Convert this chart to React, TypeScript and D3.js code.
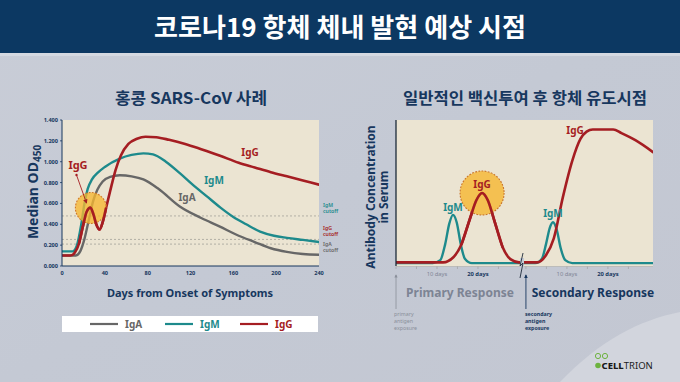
import React from 'react';
import * as d3 from 'd3';

const W = 680;
const H = 382;

const NAVY = '#17375e';
const RED = '#a51d22';
const TEAL = '#1d8a8c';
const GRAY = '#676767';
const PLOT_BG = '#ebe4d2';

const mainTitle = '코로나19 항체 체내 발현 예상 시점';
const leftTitle = '홍콩 SARS-CoV 사례';
const rightTitle = '일반적인 백신투여 후 항체 유도시점';

// Left chart (days, median OD450)
const leftYTicks = [0, 0.2, 0.4, 0.6, 0.8, 1.0, 1.2, 1.4];
const leftXTicks = [0, 40, 80, 120, 160, 200, 240];

const igaData: [number, number][] = [
  [0, 0.1], [13, 0.1], [17, 0.14], [21, 0.26], [25, 0.44], [29, 0.62], [33, 0.73], [38, 0.81],
  [45, 0.855], [54, 0.87], [65, 0.86], [76, 0.83], [90, 0.74], [110, 0.57], [130, 0.46],
  [147, 0.38], [165, 0.29], [180, 0.23], [195, 0.17], [210, 0.135], [225, 0.115], [240, 0.108],
];
const igmData: [number, number][] = [
  [0, 0.14], [10, 0.14], [14, 0.2], [18, 0.4], [21, 0.6], [24, 0.74], [28, 0.83], [34, 0.9],
  [40, 0.95], [54, 1.03], [65, 1.065], [76, 1.08], [85, 1.07], [97, 1.0], [110, 0.89],
  [122, 0.78], [135, 0.67], [148, 0.56], [160, 0.47], [172, 0.4], [185, 0.33], [198, 0.29],
  [210, 0.27], [225, 0.25], [240, 0.23],
];
const iggData: [number, number][] = [
  [0, 0.1], [8, 0.1], [12, 0.13], [16, 0.22], [20, 0.4], [23, 0.52], [26.5, 0.56], [29.5, 0.49],
  [32, 0.4], [35, 0.35], [38, 0.42], [41, 0.55], [45, 0.72], [50, 0.92], [55, 1.06], [62, 1.17],
  [70, 1.22], [78, 1.24], [88, 1.235], [100, 1.21], [115, 1.17], [130, 1.12], [147, 1.06],
  [165, 0.99], [180, 0.945], [195, 0.9], [210, 0.86], [225, 0.82], [240, 0.78],
];
const cutoffNames = ['IgM', 'IgG', 'IgA'];
const cutoffValues = [0.48, 0.255, 0.21];
const legendNames = ['IgA', 'IgM', 'IgG'];

// Right chart (time in days, relative concentration)
const secondaryStart = 31.7;
const rightDomainEnd = 62.7;
const rightTickLabels = ['10 days', '20 days'];
const rightTickDays = [10, 20];
const rightMinorTicks = [0, 5, 10, 15, 20, 25];
const vIgmData: [number, number][] = [
  [0, 0.02], [9, 0.02], [10.8, 0.04], [12, 0.15], [13, 0.29], [13.9, 0.35], [14.8, 0.3],
  [15.8, 0.15], [16.8, 0.05], [18.5, 0.02], [34, 0.02], [35.6, 0.05], [36.6, 0.15],
  [37.5, 0.26], [38.3, 0.3], [39.2, 0.25], [40.2, 0.12], [41.3, 0.04], [43, 0.02], [62.7, 0.02],
];
const vIggData: [number, number][] = [
  [0, 0.025], [11.5, 0.025], [14, 0.06], [16, 0.15], [18, 0.32], [19.6, 0.45], [21, 0.5],
  [22.4, 0.45], [24, 0.31], [26, 0.13], [28, 0.045], [30, 0.025], [34.4, 0.025], [36.5, 0.07],
  [38.5, 0.19], [40.7, 0.47], [43, 0.72], [45, 0.87], [46.5, 0.92], [48, 0.935], [53, 0.935],
  [55, 0.91], [58.5, 0.86], [62.7, 0.78],
];
const primaryExposureLines = ['primary', 'antigen', 'exposure'];
const secondaryExposureLines = ['secondary', 'antigen', 'exposure'];

const LATIN = "'Noto Sans', 'Open Sans', sans-serif";
const KR = "'Noto Sans CJK KR', 'Noto Sans', sans-serif";

export default function App() {
  // left scales
  const lx = d3.scaleLinear().domain([0, 240]).range([62, 319]);
  const ly = d3.scaleLinear().domain([0, 1.4]).range([266, 120]);
  const lline = d3
    .line<[number, number]>()
    .x((d) => lx(d[0]))
    .y((d) => ly(d[1]))
    .curve(d3.curveMonotoneX);

  // right scales
  const rx = d3.scaleLinear().domain([0, rightDomainEnd]).range([396, 653]);
  const ry = d3.scaleLinear().domain([0, 1]).range([266, 120]);
  const rline = d3
    .line<[number, number]>()
    .x((d) => rx(d[0]))
    .y((d) => ry(d[1]))
    .curve(d3.curveMonotoneX);

  const cutoffColors = [TEAL, RED, GRAY];
  const legendColors = [GRAY, TEAL, RED];
  const legendX = [90, 165, 240];

  const breakX = rx(30.5);
  const expoY = [315.5, 322.8, 330.1];

  return (
    <svg
      width={W}
      height={H}
      viewBox={`0 0 ${W} ${H}`}
      style={{ position: 'absolute', left: 0, top: 0, display: 'block' }}
    >
      <defs>
        <linearGradient id="bg" x1="0" y1="0" x2="1" y2="1">
          <stop offset="0" stopColor="#c9cdd7" />
          <stop offset="0.5" stopColor="#c4c9d4" />
          <stop offset="1" stopColor="#c3c7d2" />
        </linearGradient>
        <marker id="arrowRed" viewBox="0 0 10 10" refX="8" refY="5" markerWidth="5" markerHeight="5" orient="auto">
          <path d="M0,0 L10,5 L0,10 z" fill={RED} />
        </marker>
        <marker id="arrowGray" viewBox="0 0 10 10" refX="8" refY="5" markerWidth="4" markerHeight="4" orient="auto">
          <path d="M0,0 L10,5 L0,10 z" fill="#8a8f9a" />
        </marker>
        <marker id="arrowNavy" viewBox="0 0 10 10" refX="8" refY="5" markerWidth="4" markerHeight="4" orient="auto">
          <path d="M0,0 L10,5 L0,10 z" fill={NAVY} />
        </marker>
        <clipPath id="lclip">
          <rect x={62} y={120} width={257} height={146} />
        </clipPath>
        <clipPath id="rclip">
          <rect x={396} y={120} width={257} height={146} />
        </clipPath>
      </defs>

      {/* background */}
      <rect x={0} y={0} width={W} height={H} fill="url(#bg)" />
      <path d="M560,382 C600,340 640,320 680,312 L680,382 Z" fill="#d2d5dd" />
      <rect x={0} y={0} width={W} height={53} fill="#0c3862" />
      <rect x={0} y={53} width={W} height={3} fill="#d5d9e1" />
      <text
        x={340}
        y={37}
        textAnchor="middle"
        fill="#ffffff"
        fontFamily={KR}
        fontWeight={700}
        fontSize={26}
        textLength={372}
        lengthAdjust="spacingAndGlyphs"
      >
        {mainTitle}
      </text>

      {/* ===== LEFT CHART ===== */}
      <text
        x={191}
        y={104}
        textAnchor="middle"
        fill={NAVY}
        fontFamily={KR}
        fontWeight={700}
        fontSize={16}
        textLength={152}
        lengthAdjust="spacingAndGlyphs"
      >
        {leftTitle}
      </text>
      <rect x={62} y={120} width={257} height={146} fill={PLOT_BG} />
      {/* cutoff lines */}
      {cutoffValues.map((v, i) => (
        <line
          key={'co' + i}
          x1={62}
          x2={319}
          y1={ly(v)}
          y2={ly(v)}
          stroke="#9a9a92"
          strokeWidth={0.7}
          strokeDasharray="2,2"
        />
      ))}
      {/* curves */}
      <g clipPath="url(#lclip)" fill="none" strokeLinejoin="round" strokeLinecap="round">
        <path d={lline(igaData) || ''} stroke={GRAY} strokeWidth={2.4} />
        <path d={lline(igmData) || ''} stroke={TEAL} strokeWidth={2.4} />
        <path d={lline(iggData) || ''} stroke={RED} strokeWidth={2.6} />
      </g>
      {/* highlight circle */}
      <circle
        cx={lx(27)}
        cy={ly(0.556)}
        r={15.5}
        fill="#f6b731"
        fillOpacity={0.78}
        stroke="#d0782a"
        strokeWidth={1.1}
        strokeDasharray="1.8,1.4"
      />
      <path d={lline(iggData.filter((d) => d[0] >= 16 && d[0] <= 41)) || ''} fill="none" stroke={RED} strokeWidth={2.6} strokeLinecap="round" />
      {/* IgG annotation */}
      <text x={78} y={169} textAnchor="middle" fill={RED} fontFamily={LATIN} fontWeight={700} fontSize={11}>
        IgG
      </text>
      <circle cx={76.5} cy={175} r={1.2} fill={RED} />
      <line x1={76.5} y1={175} x2={86.5} y2={203} stroke={RED} strokeWidth={0.9} markerEnd="url(#arrowRed)" />
      {/* curve labels */}
      <text x={250} y={156} textAnchor="middle" fill={RED} fontFamily={LATIN} fontWeight={700} fontSize={10}>IgG</text>
      <text x={214} y={184} textAnchor="middle" fill={TEAL} fontFamily={LATIN} fontWeight={700} fontSize={10}>IgM</text>
      <text x={187} y={201} textAnchor="middle" fill={GRAY} fontFamily={LATIN} fontWeight={700} fontSize={10}>IgA</text>
      {/* cutoff labels */}
      {cutoffNames.map((n, i) => {
        const yy = [210, 233, 249][i];
        return (
          <g key={'cl' + i} fill={cutoffColors[i]} fontFamily={LATIN} fontSize={5.2} fontWeight={600}>
            <text x={323} y={yy - 3.2}>{n}</text>
            <text x={323} y={yy + 3.4}>cutoff</text>
          </g>
        );
      })}
      {/* axes */}
      <line x1={62} x2={62} y1={120} y2={266} stroke={NAVY} strokeWidth={1} />
      <line x1={62} x2={319} y1={266} y2={266} stroke={NAVY} strokeWidth={1} />
      {leftYTicks.map((t) => (
        <g key={'ly' + t}>
          <line x1={60} x2={62} y1={ly(t)} y2={ly(t)} stroke={NAVY} strokeWidth={0.8} />
          <text
            x={58}
            y={ly(t) + 2}
            textAnchor="end"
            fill={NAVY}
            fontFamily={LATIN}
            fontWeight={700}
            fontSize={5.6}
          >
            {d3.format('.3f')(t)}
          </text>
        </g>
      ))}
      {leftXTicks.map((t) => (
        <text
          key={'lx' + t}
          x={lx(t)}
          y={275}
          textAnchor="middle"
          fill={NAVY}
          fontFamily={LATIN}
          fontWeight={700}
          fontSize={5.6}
        >
          {t}
        </text>
      ))}
      <text
        transform="translate(38,192) rotate(-90)"
        textAnchor="middle"
        fill={NAVY}
        fontFamily={LATIN}
        fontWeight={700}
        fontSize={14}
      >
        Median OD<tspan fontSize={10} dy={3}>450</tspan>
      </text>
      <text x={190} y={297} textAnchor="middle" fill={NAVY} fontFamily={LATIN} fontWeight={700} fontSize={11}>
        Days from Onset of Symptoms
      </text>
      {/* legend */}
      <rect x={62} y={316} width={256} height={16} fill="#ffffff" />
      {legendNames.map((n, i) => (
        <g key={'lg' + i}>
          <line x1={legendX[i]} x2={legendX[i] + 28} y1={324} y2={324} stroke={legendColors[i]} strokeWidth={2.2} />
          <text
            x={legendX[i] + 35}
            y={327.5}
            fill={legendColors[i]}
            fontFamily={LATIN}
            fontWeight={700}
            fontSize={10}
          >
            {n}
          </text>
        </g>
      ))}

      {/* ===== RIGHT CHART ===== */}
      <text
        x={525}
        y={104}
        textAnchor="middle"
        fill={NAVY}
        fontFamily={KR}
        fontWeight={700}
        fontSize={16}
        textLength={244}
        lengthAdjust="spacingAndGlyphs"
      >
        {rightTitle}
      </text>
      <rect x={396} y={120} width={257} height={146} fill={PLOT_BG} />
      <g clipPath="url(#rclip)" fill="none" strokeLinejoin="round" strokeLinecap="round">
        <path d={rline(vIgmData) || ''} stroke={TEAL} strokeWidth={2.4} />
        <path d={rline(vIggData) || ''} stroke={RED} strokeWidth={2.6} />
      </g>
      <circle
        cx={rx(21)}
        cy={ry(0.5)}
        r={22}
        fill="#f6b731"
        fillOpacity={0.8}
        stroke="#c8742a"
        strokeWidth={1.1}
        strokeDasharray="1.8,1.4"
      />
      <path
        d={rline(vIggData.filter((d) => d[0] >= 16 && d[0] <= 26)) || ''}
        fill="none"
        stroke={RED}
        strokeWidth={2.6}
        strokeLinecap="round"
      />
      <text x={rx(21)} y={188} textAnchor="middle" fill={RED} fontFamily={LATIN} fontWeight={700} fontSize={10}>IgG</text>
      <text x={rx(13.9)} y={211} textAnchor="middle" fill={TEAL} fontFamily={LATIN} fontWeight={700} fontSize={10}>IgM</text>
      <text x={rx(38.3)} y={217} textAnchor="middle" fill={TEAL} fontFamily={LATIN} fontWeight={700} fontSize={10}>IgM</text>
      <text x={575} y={134} textAnchor="middle" fill={RED} fontFamily={LATIN} fontWeight={700} fontSize={10}>IgG</text>
      {/* axes */}
      <line x1={396} x2={396} y1={120} y2={266} stroke="#1d2a3a" strokeWidth={1.3} />
      <line x1={396} x2={653} y1={266.5} y2={266.5} stroke="#b7b4aa" strokeWidth={0.6} />
      {[0, secondaryStart].map((s, k) =>
        rightMinorTicks.map((t) => (
          <line
            key={'mt' + k + t}
            x1={rx(s + t)}
            x2={rx(s + t)}
            y1={266.5}
            y2={269}
            stroke="#9a9a9a"
            strokeWidth={0.6}
          />
        ))
      )}
      {[0, secondaryStart].map((s, k) =>
        rightTickDays.map((t, i) => (
          <text
            key={'rt' + k + i}
            x={rx(s + t)}
            y={276}
            textAnchor="middle"
            fill={i === 0 ? '#7f8696' : NAVY}
            fontFamily={LATIN}
            fontWeight={i === 0 ? 400 : 700}
            fontSize={5.8}
          >
            {rightTickLabels[i]}
          </text>
        ))
      )}
      {/* axis break */}
      <rect x={breakX - 1} y={258} width={4} height={11} fill="#c6cad4" />
      <path
        d={`M${breakX + 2},253 L${breakX - 1},266 L${breakX + 2},263 L${breakX - 1},278`}
        fill="none"
        stroke="#1d2a3a"
        strokeWidth={0.9}
      />
      <text
        transform="translate(375,197) rotate(-90)"
        textAnchor="middle"
        fill={NAVY}
        fontFamily={LATIN}
        fontWeight={700}
        fontSize={12}
      >
        Antibody Concentration
      </text>
      <text
        transform="translate(388,197) rotate(-90)"
        textAnchor="middle"
        fill={NAVY}
        fontFamily={LATIN}
        fontWeight={700}
        fontSize={12}
      >
        in Serum
      </text>
      {/* exposure arrows */}
      <line x1={396} x2={396} y1={309} y2={275} stroke="#8a8f9a" strokeWidth={0.8} markerEnd="url(#arrowGray)" />
      <line x1={rx(secondaryStart)} x2={rx(secondaryStart)} y1={309} y2={275} stroke={NAVY} strokeWidth={0.9} markerEnd="url(#arrowNavy)" />
      <g fill="#8a8f9a" fontFamily={LATIN} fontSize={5.3}>
        {primaryExposureLines.map((s, i) => (
          <text key={'pe' + i} x={394} y={expoY[i]}>{s}</text>
        ))}
      </g>
      <g fill={NAVY} fontFamily={LATIN} fontSize={5.3} fontWeight={700}>
        {secondaryExposureLines.map((s, i) => (
          <text key={'se' + i} x={rx(secondaryStart) - 1} y={expoY[i]}>{s}</text>
        ))}
      </g>
      <text x={460} y={297} textAnchor="middle" fill="#7d8494" fontFamily={LATIN} fontWeight={700} fontSize={12}>
        Primary Response
      </text>
      <text x={593} y={297} textAnchor="middle" fill={NAVY} fontFamily={LATIN} fontWeight={700} fontSize={12}>
        Secondary Response
      </text>

      {/* logo */}
      <circle cx={598} cy={356} r={2.6} fill="none" stroke="#6db33f" strokeWidth={1} />
      <circle cx={605} cy={356} r={2.6} fill="none" stroke="#6db33f" strokeWidth={1} />
      <circle cx={598} cy={365.5} r={2.8} fill="#6db33f" />
      <text x={601.5} y={369} fontFamily={LATIN} fontSize={9.5} fill="#1a1a1a">
        <tspan fontWeight={800}>CELL</tspan>
        <tspan fontWeight={400}>TRION</tspan>
      </text>
    </svg>
  );
}
